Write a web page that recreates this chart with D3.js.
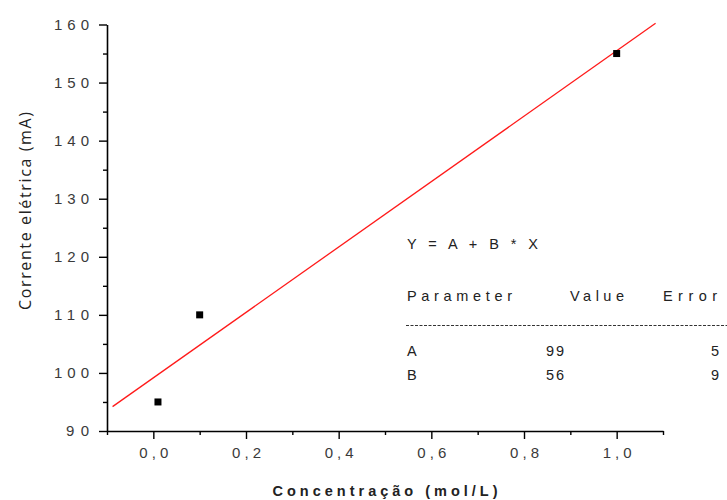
<!DOCTYPE html>
<html>
<head>
<meta charset="utf-8">
<script src="https://cdn.jsdelivr.net/npm/d3@7"></script>
<style>
  body { margin: 0; background: #fff; }
  svg { display: block; }
  .tick text { font-family: "Liberation Sans", Arial, sans-serif; font-size: 15px; fill: #3a3a3a; }
  .ann { font-family: "Liberation Sans", Arial, sans-serif; font-size: 14.5px; fill: #222; }
</style>
</head>
<body>
<svg id="chart" width="727" height="500"></svg>
<script>
// dados medidos
var concentracao = [0.01, 0.1, 1.0];
var corrente = [95, 110, 155];
// reta ajustada (extremos)
var fitX = [-0.088, 1.084];
var fitY = [94.2, 160.2];
var xTicks = [0, 0.2, 0.4, 0.6, 0.8, 1.0];
var xMinor = [-0.1, 0.1, 0.3, 0.5, 0.7, 0.9, 1.1];
var yTicks = [90, 100, 110, 120, 130, 140, 150, 160];
var yMinor = [95, 105, 115, 125, 135, 145, 155];
var params = ["A", "B"];
var paramValues = ["99", "56"];
var paramErrors = ["5", "9"];

var margin = {top: 24.5, right: 64, bottom: 69, left: 107};
var W = 727, H = 500;
var svg = d3.select("#chart");

var x = d3.scaleLinear().domain([-0.1, 1.1]).range([margin.left, W - margin.right]);
var y = d3.scaleLinear().domain([90, 160]).range([H - margin.bottom, margin.top]);

var fmt = function(d){ return d3.format(".1f")(d).replace(".", ","); };

// eixo y
var gy = svg.append("g").attr("transform", "translate(" + margin.left + ",0)");
gy.call(d3.axisLeft(y).tickValues(yTicks).tickSize(8).tickPadding(10).tickSizeOuter(0));
var gyMin = svg.append("g").attr("transform", "translate(" + margin.left + ",0)");
gyMin.call(d3.axisLeft(y).tickValues(yMinor).tickSize(4).tickFormat("").tickSizeOuter(0));
gyMin.select(".domain").remove();

// eixo x
var gx = svg.append("g").attr("transform", "translate(0," + (H - margin.bottom) + ")");
gx.call(d3.axisBottom(x).tickValues(xTicks).tickSize(8).tickPadding(8).tickFormat(fmt).tickSizeOuter(0));
var gxMin = svg.append("g").attr("transform", "translate(0," + (H - margin.bottom) + ")");
gxMin.call(d3.axisBottom(x).tickValues(xMinor).tickSize(4).tickFormat("").tickSizeOuter(0));
gxMin.select(".domain").remove();

svg.selectAll(".domain").attr("stroke", "#000").attr("stroke-width", 1.6);
svg.selectAll(".tick line").attr("stroke", "#000").attr("stroke-width", 1.4);
svg.selectAll(".tick text").attr("font-family", null).attr("font-size", null).attr("fill", null);
gy.selectAll(".tick text").attr("textLength", function(d){ return d >= 100 ? 35 : 23; }).attr("lengthAdjust", "spacing");
gx.selectAll(".tick text").attr("textLength", 29).attr("lengthAdjust", "spacing");

// titulos dos eixos
svg.append("text")
  .attr("x", (margin.left + W - margin.right) / 2)
  .attr("y", 496)
  .attr("text-anchor", "middle")
  .attr("textLength", 225).attr("lengthAdjust", "spacing")
  .style("font-family", "'Liberation Sans', Arial, sans-serif")
  .style("font-size", "14.5px").style("font-weight", "bold")
  .style("fill", "#222")
  .text("Concentração (mol/L)");

svg.append("text")
  .attr("transform", "translate(31,211) rotate(-90)")
  .attr("text-anchor", "middle")
  .attr("textLength", 198).attr("lengthAdjust", "spacing")
  .style("font-family", "'Open Sans', sans-serif")
  .style("font-size", "16px")
  .style("fill", "#222")
  .text("Corrente elétrica (mA)");

// reta de ajuste
var line = d3.line().x(function(d){ return x(d[0]); }).y(function(d){ return y(d[1]); });
svg.append("path")
  .datum(d3.zip(fitX, fitY))
  .attr("d", line)
  .attr("fill", "none").attr("stroke", "#ff1a1a").attr("stroke-width", 1.3);

// pontos
svg.selectAll(".pt").data(d3.zip(concentracao, corrente)).enter()
  .append("rect").attr("class", "pt")
  .attr("x", function(d){ return x(d[0]) - 3.5; })
  .attr("y", function(d){ return y(d[1]) - 3.5; })
  .attr("width", 7).attr("height", 7).attr("fill", "#000");

// tabela de parametros
function ann(tx, ty, txt, len){
  var t = svg.append("text").attr("class", "ann").attr("x", tx).attr("y", ty).text(txt);
  if(len) t.attr("textLength", len).attr("lengthAdjust", "spacing");
  return t;
}
ann(407, 249, "Y = A + B * X", 131);
ann(407, 301, "Parameter", 105);
ann(570, 301, "Value", 54);
ann(663, 301, "Error", 54);
svg.append("line").attr("x1", 406).attr("x2", 727).attr("y1", 325.5).attr("y2", 325.5)
  .attr("stroke", "#333").attr("stroke-width", 1).attr("stroke-dasharray", "3,1.5");

params.forEach(function(p, i){
  var yy = 356 + i * 23.5;
  ann(407, yy, p);
  ann(546, yy, paramValues[i], 18);
  ann(719, yy, paramErrors[i]).attr("text-anchor", "end");
});
</script>
</body>
</html>
